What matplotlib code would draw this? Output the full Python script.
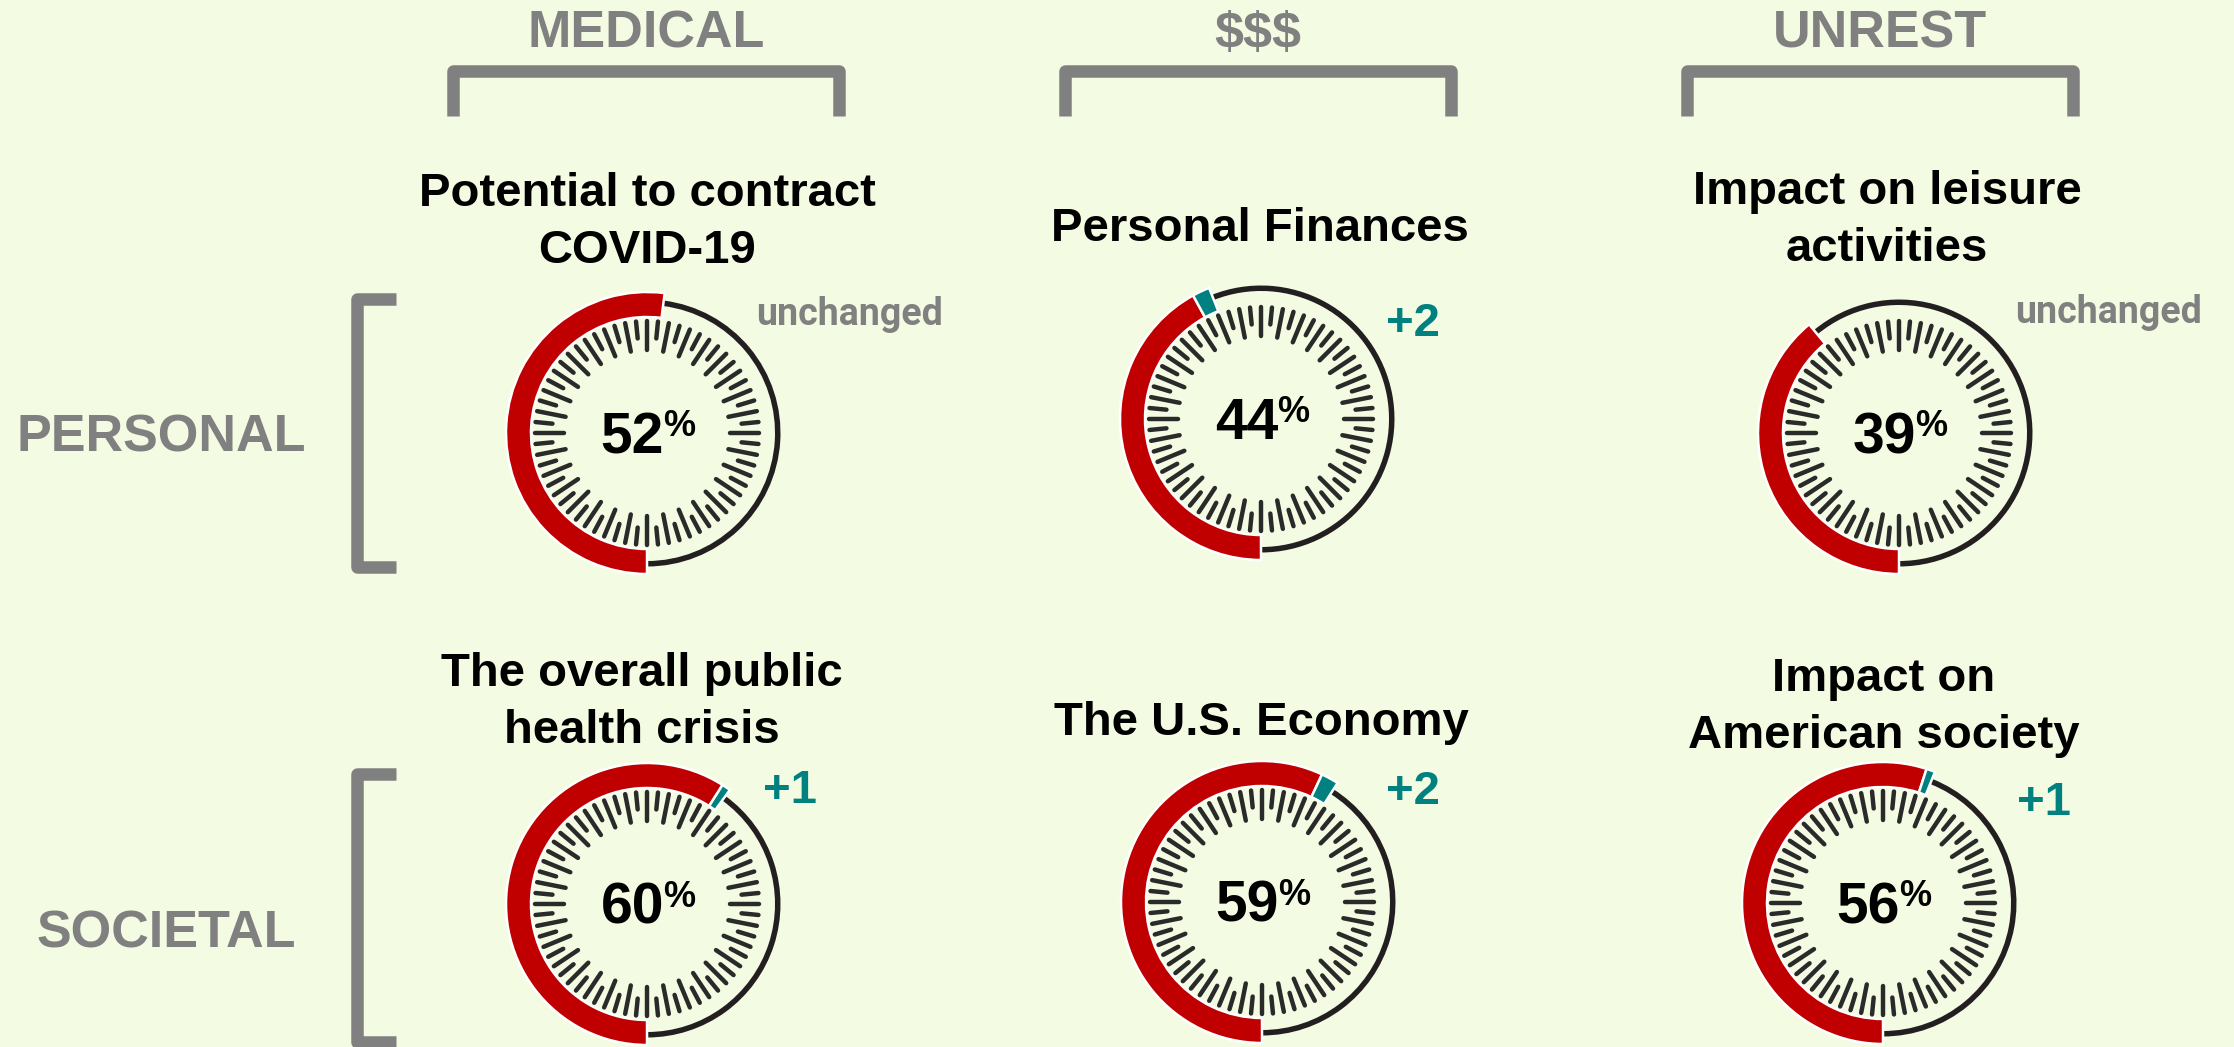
import numpy as np
import matplotlib.pyplot as plt
from matplotlib.patches import Wedge
from matplotlib.collections import LineCollection

# dados do gráfico
col_headers = ["MEDICAL", "$$$", "UNREST"]
row_labels = ["PERSONAL", "SOCIETAL"]
titles = ["Potential to contract\nCOVID-19", "Personal Finances",
          "Impact on leisure\nactivities", "The overall public\nhealth crisis",
          "The U.S. Economy", "Impact on\nAmerican society"]
values = [52, 44, 39, 60, 59, 56]
changes = [0, 2, 0, 1, 2, 1]

# posições (pixels da figura)
centers = [(647, 433), (1261, 419), (1899, 433), (647, 904), (1262, 902), (1883, 903)]
title_pos = [(647, 263), (1260, 241), (1887, 261), (642, 743), (1261, 735), (1884, 748)]
change_pos = [(850, 325), (1413, 336), (2109, 323), (790, 803), (1413, 804), (2044, 815)]
header_x = [646, 1258, 1880]
row_y = [433, 908]
row_label_pos = [(161, 452), (166, 948)]

bg = '#f3fce2'
red = '#c00000'
teal = '#00807f'
gray = '#808080'
dark = '#231f20'
W, H = 2234, 1047

fig = plt.figure(figsize=(W / 100, H / 100), dpi=100, facecolor=bg)
ax = fig.add_axes([0, 0, 1, 1])
ax.set_xlim(0, W)
ax.set_ylim(H, 0)
ax.set_facecolor(bg)
ax.axis('off')
font = 'Liberation Sans'

# cabeçalhos das colunas com colchete
for txt, x in zip(col_headers, header_x):
    ax.text(x, 48, txt, ha='center', va='baseline', fontsize=37.5, fontweight='bold',
            color=gray, family=font, parse_math=False)
    ax.plot([x - 193, x - 193, x + 193, x + 193], [116, 70.5, 70.5, 116], color=gray,
            lw=9, solid_joinstyle='round', solid_capstyle='butt')

# rótulos das linhas com colchete
for txt, (lx, ly), y in zip(row_labels, row_label_pos, row_y):
    ax.text(lx, ly, txt, ha='center', va='baseline', fontsize=37.5, fontweight='bold',
            color=gray, family=font)
    ax.plot([396, 356.5, 356.5, 396], [y - 134, y - 134, y + 134, y + 134], color=gray,
            lw=9, solid_joinstyle='round', solid_capstyle='butt')

# medidores
n_ticks = 64
ang = np.linspace(0, 2 * np.pi, n_ticks, endpoint=False)
for i, (cx, cy) in enumerate(centers):
    v, c = values[i], changes[i]
    # marcas internas (longa / curta alternadas)
    r_in = np.where(np.arange(n_ticks) % 2 == 0, 83, 95)
    segs = [[(cx + 112 * np.cos(a), cy + 112 * np.sin(a)),
             (cx + r * np.cos(a), cy + r * np.sin(a))] for a, r in zip(ang, r_in)]
    ax.add_collection(LineCollection(segs, colors='#2a2a2a', linewidths=3.2, capstyle='round'))
    a_end = 90 + 360 * v / 100
    a_base = 90 + 360 * (v - c) / 100
    ax.add_patch(Wedge((cx, cy), 133.5, a_end, 450, width=5.5, facecolor=dark, edgecolor='none'))
    ax.add_patch(Wedge((cx, cy), 141, 90, a_base, width=25, facecolor=red,
                       edgecolor='white', linewidth=1.8))
    if c > 0:
        ax.add_patch(Wedge((cx, cy), 141, a_base, a_end, width=25, facecolor=teal,
                           edgecolor='white', linewidth=1.8))
    ax.text(cx + 17, cy + 20, str(v), ha='right', va='baseline', fontsize=41,
            fontweight='bold', color='black', family=font)
    ax.text(cx + 16, cy + 3, '%', ha='left', va='baseline', fontsize=26,
            fontweight='bold', color='black', family=font)

    # título
    tx, ty = title_pos[i]
    lines = titles[i].split('\n')
    for k, ln in enumerate(lines):
        ax.text(tx, ty - 57 * (len(lines) - 1 - k), ln, ha='center', va='baseline',
                fontsize=34, fontweight='bold', color='black', family=font)

    # variação
    px, py = change_pos[i]
    if c == 0:
        ax.text(px, py, 'unchanged', ha='center', va='baseline', fontsize=27,
                fontweight='bold', color=gray, family='Roboto')
    else:
        ax.text(px, py, '+%d' % c, ha='center', va='baseline', fontsize=34,
                fontweight='bold', color=teal, family=font)

fig.savefig('out.png', dpi=100, facecolor=bg)
